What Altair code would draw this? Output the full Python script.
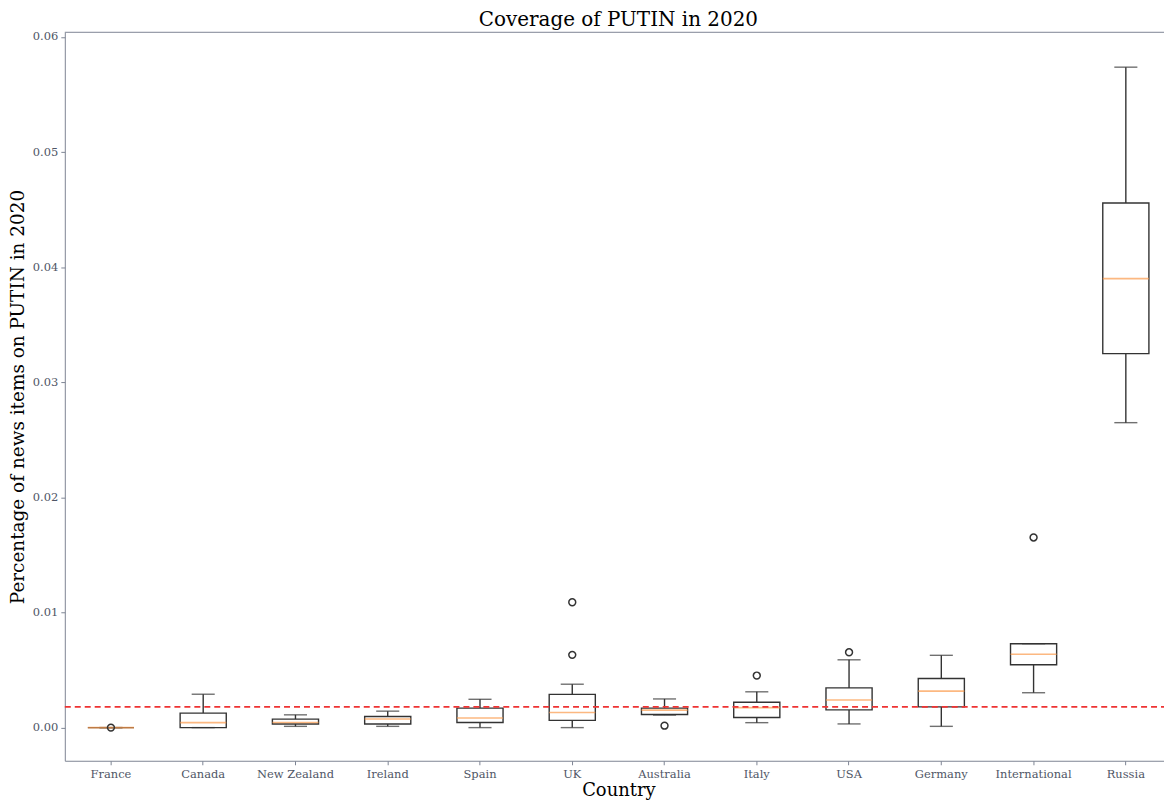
import altair as alt
import pandas as pd

countries = ["France", "Canada", "New Zealand", "Ireland", "Spain", "UK",
             "Australia", "Italy", "USA", "Germany", "International", "Russia"]
whisk_lo = [0.0, 0.0, 0.00011, 0.00011, 0.0, 0.0, 0.00109, 0.00043, 0.00032, 0.00011, 0.00303, 0.02649]
q1 = [0.0, 0.0, 0.00032, 0.00032, 0.00045, 0.00063, 0.00114, 0.00088, 0.00154, 0.00180, 0.00546, 0.03249]
median = [0.0, 0.00043, 0.00045, 0.00075, 0.00083, 0.00131, 0.00152, 0.00174, 0.00240, 0.00317, 0.00637, 0.03900]
q3 = [0.0, 0.00126, 0.00074, 0.00097, 0.00169, 0.00289, 0.00169, 0.00220, 0.00345, 0.00426, 0.00729, 0.04557]
whisk_hi = [0.0, 0.00290, 0.00111, 0.00143, 0.00246, 0.00377, 0.00249, 0.00311, 0.00589, 0.00628, 0.00729, 0.05737]

outlier_country = ["France", "UK", "UK", "Australia", "Italy", "USA", "International"]
outlier_value = [0.0, 0.01089, 0.00632, 0.00017, 0.00452, 0.00654, 0.01652]

mean_line = 0.0018
y_ticks = [0.0, 0.01, 0.02, 0.03, 0.04, 0.05, 0.06]

W, H = 1111, 731
band = W / len(countries)

df = pd.DataFrame({"country": countries, "lo": whisk_lo, "q1": q1,
                   "med": median, "q3": q3, "hi": whisk_hi})
df_out = pd.DataFrame({"country": outlier_country, "v": outlier_value})
df_ref = pd.DataFrame({"v": [mean_line]})

FONT = "DejaVu Serif"
GREY = "#4f5666"
SPINE = "#7d8594"
BOX = "#333333"

xscale = alt.Scale(domain=countries, paddingInner=0, paddingOuter=0)
yscale = alt.Scale(domain=[-0.00288, 0.0604], nice=False, zero=False)

x = alt.X("country:N", scale=xscale, sort=countries,
          axis=alt.Axis(title="Country", labelAngle=0, labelFont=FONT, labelFontSize=11.5,
                        labelColor=GREY, titleFont=FONT, titleFontSize=18,
                        titleFontWeight="normal", titleColor="black",
                        domainColor=SPINE, tickColor=SPINE, tickSize=4,
                        labelPadding=4, titleY=35, titleBaseline="alphabetic"))
yaxis = alt.Axis(title="Percentage of news items on PUTIN in 2020", values=y_ticks,
                 format=".2f", grid=False, labelFont=FONT, labelFontSize=11.5,
                 labelColor=GREY, titleFont=FONT, titleFontSize=18.5,
                 titleFontWeight="normal", titleColor="black",
                 domainColor=SPINE, tickColor=SPINE, tickSize=4, labelPadding=3,
                 titleX=-47, titleY=H / 2, titleBaseline="middle", titleAngle=-90)

base = alt.Chart(df)

lower = base.mark_rule(color=BOX, strokeWidth=1.4).encode(
    x=x, y=alt.Y("lo:Q", scale=yscale, axis=yaxis), y2="q1:Q")
upper = base.mark_rule(color=BOX, strokeWidth=1.4).encode(
    x=x, y=alt.Y("q3:Q", scale=yscale), y2="hi:Q")
box = base.mark_bar(fill="white", stroke=BOX, strokeWidth=1.4, size=band * 0.5).encode(
    x=x, y=alt.Y("q1:Q", scale=yscale), y2="q3:Q")
cap_lo = base.mark_tick(color=BOX, thickness=1.4, size=band * 0.25).encode(
    x=x, y=alt.Y("lo:Q", scale=yscale))
cap_hi = base.mark_tick(color=BOX, thickness=1.4, size=band * 0.25).encode(
    x=x, y=alt.Y("hi:Q", scale=yscale))
med = base.mark_tick(color="#fb9a4c", thickness=1.6, size=band * 0.5).encode(
    x=x, y=alt.Y("med:Q", scale=yscale))
fliers = alt.Chart(df_out).mark_point(shape="circle", filled=False, color=BOX,
                                      strokeWidth=1.5, size=48, opacity=1).encode(
    x=x, y=alt.Y("v:Q", scale=yscale))
ref = alt.Chart(df_ref).mark_rule(color="#ee3333", strokeWidth=1.6,
                                  strokeDash=[6, 4]).encode(
    y=alt.Y("v:Q", scale=yscale), x=alt.value(0), x2=alt.value(W))
top = alt.Chart(df_ref).mark_rule(color=SPINE, strokeWidth=1).encode(
    x=alt.value(0), x2=alt.value(W), y=alt.value(0))

chart = alt.layer(lower, upper, box, cap_lo, cap_hi, med, fliers, ref, top).properties(
    width=W, height=H,
    title=alt.TitleParams("Coverage of PUTIN in 2020", font=FONT, fontSize=20,
                          fontWeight="normal", color="black", anchor="middle",
                          offset=1),
    autosize=alt.AutoSizeParams(type="none"),
    padding={"left": 57, "top": 23, "right": -8, "bottom": 39},
).configure_view(stroke=None)

chart.save("out.html", embed_options={"renderer": "svg", "actions": False})
